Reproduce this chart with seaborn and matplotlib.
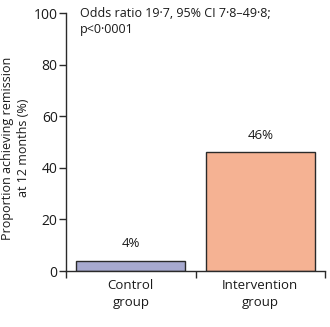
import matplotlib
matplotlib.use("Agg")
import matplotlib.pyplot as plt
import seaborn as sns
import pandas as pd

groups = ["Control\ngroup", "Intervention\ngroup"]
values = [4, 46]
labels = ["4%", "46%"]
colors = ["#a7a9cf", "#f5b293"]
annotation = "Odds ratio 19·7, 95% CI 7·8–49·8;\np<0·0001"

sns.set_theme(style="white")
plt.rcParams['font.family'] = ['Open Sans', 'DejaVu Sans']

df = pd.DataFrame({"group": groups, "value": values})

fig = plt.figure(figsize=(3.30, 3.27), dpi=100)
ax = fig.add_axes([0.2, 0.171, 0.785, 0.789])
sns.barplot(data=df, x="group", y="value", hue="group", palette=colors,
            saturation=1, width=0.84, edgecolor="#2a2a2a", linewidth=1.0,
            legend=False, ax=ax)

ax.set_xlim(-0.5, 1.5)
ax.set_ylim(0, 100)
ax.set_yticks([0, 20, 40, 60, 80, 100])
ax.tick_params(axis="y", which="major", direction="out", length=5, width=1,
               color="#2a2a2a", labelsize=10, labelcolor="#1a1a1a", pad=1, left=True)
ax.set_xticks([0, 1])
ax.set_xticklabels(groups, fontsize=9.5, linespacing=1.35, color="#1a1a1a")
ax.tick_params(axis="x", which="major", length=0, pad=6)
ax.set_xticks([-0.5, 0.5, 1.5], minor=True)
ax.tick_params(axis="x", which="minor", direction="out", length=5, width=1,
               color="#2a2a2a", bottom=True)
for s in ["top", "right"]:
    ax.spines[s].set_visible(False)
for s in ["left", "bottom"]:
    ax.spines[s].set_color("#2a2a2a")
    ax.spines[s].set_linewidth(1)

ax.set_xlabel("")
ax.set_ylabel("Proportion achieving remission\nat 12 months (%)", fontsize=9,
              linespacing=1.25, color="#1a1a1a")
ax.yaxis.set_label_coords(-0.14, 0.477)

for i, (v, lab) in enumerate(zip(values, labels)):
    ax.text(i, v + 6.5, lab, ha="center", va="center", fontsize=9.5, color="#1a1a1a")

ax.text(0.055, 1.025, annotation, transform=ax.transAxes, ha="left", va="top",
        fontsize=9, color="#1a1a1a", linespacing=1.3)

fig.savefig("out.png", dpi=100)
